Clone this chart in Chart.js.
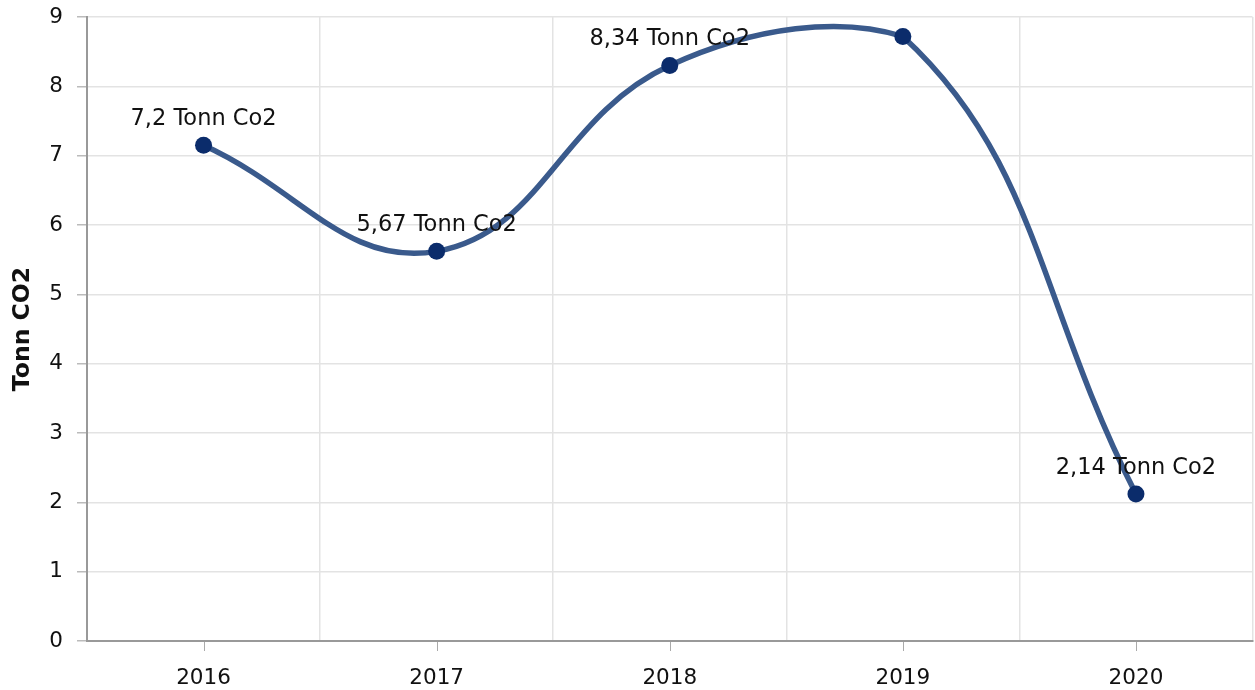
<!DOCTYPE html>
<html>
<head>
<meta charset="utf-8">
<script src="https://cdn.jsdelivr.net/npm/chart.js@4"></script>
<style>
  html, body { margin: 0; padding: 0; background: #fff; overflow: hidden; }
  #wrap { width: 1255px; height: 690px; overflow: hidden; }
</style>
</head>
<body>
<div id="wrap"><canvas id="co2Chart" width="1261" height="690"></canvas></div>
<script>
const years = ['2016', '2017', '2018', '2019', '2020'];
const tonnCo2 = [7.15, 5.62, 8.3, 8.72, 2.12];
const pointLabels = ['7,2 Tonn Co2', '5,67 Tonn Co2', '8,34 Tonn Co2', '', '2,14 Tonn Co2'];
const yTicks = [0, 1, 2, 3, 4, 5, 6, 7, 8, 9];

const FONT = '"DejaVu Sans", Verdana, sans-serif';

// labels above the points
const valueLabels = {
    id: 'valueLabels',
    afterDatasetsDraw(chart) {
        const ctx = chart.ctx;
        const meta = chart.getDatasetMeta(0);
        ctx.save();
        ctx.font = '22.5px ' + FONT;
        ctx.fillStyle = '#111';
        ctx.textAlign = 'center';
        ctx.textBaseline = 'middle';
        meta.data.forEach((pt, i) => {
            if (pointLabels[i]) ctx.fillText(pointLabels[i], pt.x, pt.y - 26);
        });
        ctx.restore();
    }
};

// short tick marks under the x axis at category centres
const xTickMarks = {
    id: 'xTickMarks',
    afterDraw(chart) {
        const ctx = chart.ctx;
        const x = chart.scales.x;
        const bottom = chart.chartArea.bottom;
        ctx.save();
        ctx.strokeStyle = '#aaa';
        ctx.lineWidth = 1;
        years.forEach((y, i) => {
            const px = Math.round(x.getPixelForValue(i)) + 0.5;
            ctx.beginPath();
            ctx.moveTo(px, bottom + 1);
            ctx.lineTo(px, bottom + 10);
            ctx.stroke();
        });
        ctx.restore();
    }
};

const ctx = document.getElementById('co2Chart').getContext('2d');
const co2Chart = new Chart(ctx, {
    type: 'line',
    data: {
        labels: years,
        datasets: [{
            data: tonnCo2,
            borderColor: '#3a5a8c',
            borderWidth: 5.5,
            tension: 0.42,
            pointRadius: 8.5,
            pointHoverRadius: 8.5,
            pointBackgroundColor: '#0b2c6b',
            pointBorderColor: '#0b2c6b',
            pointBorderWidth: 0,
            fill: false
        }]
    },
    options: {
        responsive: false,
        animation: false,
        layout: { padding: { top: 17, right: 0, left: 0, bottom: 0 } },
        plugins: {
            legend: { display: false },
            tooltip: { enabled: false }
        },
        scales: {
            x: {
                offset: true,
                grid: { offset: true, color: '#e3e3e3', lineWidth: 1.5, drawTicks: false },
                border: { color: '#999', width: 2 },
                ticks: { font: { family: FONT, size: 21.5 }, color: '#111', padding: 25 },
                afterFit(scale) {
                    scale.height = 49;
                    scale.paddingLeft = 0;
                    scale.paddingRight = 0;
                }
            },
            y: {
                min: 0,
                max: 9,
                afterBuildTicks(scale) { scale.ticks = yTicks.map(v => ({ value: v })); },
                grid: { color: '#e3e3e3', lineWidth: 1.5, tickLength: 10, tickColor: '#bbb' },
                border: { color: '#999', width: 2 },
                ticks: { font: { family: FONT, size: 21.5 }, color: '#111', padding: 14 },
                title: {
                    display: true,
                    text: 'Tonn CO2',
                    font: { family: FONT, size: 23.5, weight: 'bold' },
                    color: '#111',
                    padding: { top: 9, bottom: 6 }
                },
                afterFit(scale) {
                    scale.width = 87;
                    scale.paddingTop = 0;
                    scale.paddingBottom = 0;
                }
            }
        }
    },
    plugins: [valueLabels, xTickMarks]
});
</script>
</body>
</html>
